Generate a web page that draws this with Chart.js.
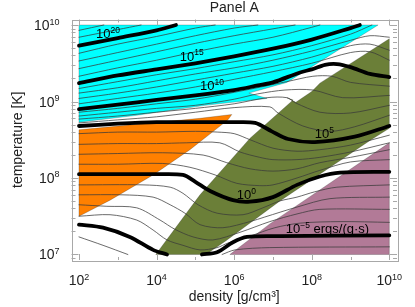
<!DOCTYPE html>
<html><head><meta charset="utf-8">
<style>html,body{margin:0;padding:0;background:#fff}canvas{display:block}</style>
<script src="https://cdn.jsdelivr.net/npm/chart.js@4"></script></head>
<body><canvas id="c" width="415" height="307"></canvas>
<script>
// All values are [log10 density, log10 temperature]
const regionCyan=[[2,10],[9.71,10],[7.36,9.25],[6.38,9.11],[6.85,9.04],[5.25,8.95],[3.49,8.82],[2,8.73]];
const regionOrange=[[2,8.63],[5.12,8.78],[5.94,8.83],[5.84,8.76],[4.86,8.37],[3.91,8.04],[2.8,7.71],[2,7.5]];
const regionGreen=[[3.98,7],[5.12,7.78],[6.41,8.52],[7.52,9.02],[7.36,9.05],[7.59,8.99],[8,9.13],[8.21,9.24],[10,9.82],[10,8.65],[9.53,8.5],[7.18,7.7],[5.79,7.18],[5.27,7]];
const regionPurple=[[10,8.46],[6.92,7.4],[5.89,7],[10,7]];

const c22=[[2,9.93],[2.64,10]];
const c21=[[2,9.84],[3,9.94],[3.6,10]];
const c20=[[2,9.73],[3,9.83],[4,9.93],[4.5,10]];
const c19=[[2,9.63],[3,9.75],[4,9.85],[5,9.96],[5.51,10]];
const c18=[[2,9.53],[3,9.64],[4,9.75],[5,9.86],[6,9.96],[6.61,10]];
const c17=[[2,9.43],[3,9.54],[4,9.65],[5,9.76],[6,9.86],[7,9.95],[7.57,10]];
const c16=[[2,9.33],[3,9.44],[4,9.54],[5,9.65],[6,9.75],[7,9.84],[8,9.97],[8.21,10]];
const c15=[[2,9.24],[3,9.34],[4,9.42],[5,9.5],[6,9.59],[7,9.69],[8,9.81],[9,9.96],[9.24,10]];
const c14=[[2,9.17],[3,9.26],[4,9.35],[5,9.43],[6,9.52],[7,9.61],[8,9.73],[9,9.88],[9.55,10]];
const c13=[[2,9.11],[3,9.18],[4,9.27],[5,9.36],[6,9.44],[7,9.54],[8,9.66],[9,9.8],[9.5,9.86],[10,9.84]];
const c12=[[2,9.04],[3,9.11],[4,9.19],[5,9.28],[6,9.37],[7,9.46],[8,9.58],[9,9.73],[9.5,9.75],[10,9.67]];
const c11=[[2,8.97],[3,9.04],[4,9.11],[5,9.19],[6,9.29],[7,9.39],[8,9.5],[9,9.64],[9.5,9.65],[10,9.54]];
const c10=[[2,8.9],[3,8.96],[4,9.02],[5,9.08],[6,9.15],[6.61,9.21],[7,9.25],[7.7,9.38],[8,9.42],[8.34,9.48],[8.65,9.49],[9,9.45],[9.5,9.36],[10,9.32]];
const c9=[[2,8.86],[3,8.91],[4,8.97],[5,9.03],[6,9.12],[7.36,9.26],[8.03,9.33],[8.52,9.33],[9,9.25],[10,9.2]];
const c8=[[2,8.81],[3,8.86],[4,8.91],[5,8.95],[6,9.03],[6.61,9.1],[7.31,9.15],[8.03,9.15],[8.8,9.05],[10,9.08]];
const c7=[[2,8.77],[3,8.81],[4,8.86],[5,8.91],[6,8.97],[6.85,9.05],[7.36,9.05],[7.59,8.98],[8.21,8.86],[9,8.85],[10,8.95]];
const c6=[[2,8.72],[3,8.76],[4,8.8],[5,8.86],[6,8.92],[6.92,8.93],[7.13,8.85],[7.77,8.68],[8.47,8.61],[9.11,8.67],[10,8.82]];
const c5=[[2,8.68],[3,8.71],[4,8.73],[5,8.73],[6,8.73],[6.54,8.72],[6.97,8.61],[7.39,8.51],[8.08,8.47],[9.11,8.54],[10,8.68]];
const c4=[[2,8.58],[3,8.6],[4,8.6],[5,8.61],[5.58,8.6],[6,8.58],[6.41,8.5],[7,8.39],[7.62,8.35],[8.21,8.37],[9,8.43],[10,8.56]];
const c3=[[2,8.44],[3,8.45],[4,8.45],[4.78,8.46],[5.63,8.46],[6.15,8.34],[6.66,8.27],[7,8.24],[7.62,8.24],[8.21,8.27],[9,8.34],[10,8.46]];
const c2=[[2,8.31],[3,8.32],[4.16,8.33],[5.2,8.3],[5.81,8.2],[6.41,8.12],[7,8.09],[7.62,8.12],[8.21,8.2],[9,8.27],[10,8.37]];
const c1=[[2,8.18],[3,8.18],[4.16,8.19],[4.86,8.14],[5.51,8.04],[6.07,7.93],[6.66,7.9],[7,7.91],[7.62,8],[8.21,8.1],[9,8.21],[10,8.24]];
const c0=[[2,8.05],[3,8.05],[4,8.05],[4.68,8.04],[5,7.95],[5.38,7.83],[5.97,7.71],[6.41,7.69],[7,7.75],[7.62,7.91],[8.21,8.02],[8.73,8.07],[10,8.08]];
const cm1=[[2,7.91],[3.65,7.91],[4.35,7.88],[4.68,7.8],[5.07,7.65],[5.56,7.54],[6.23,7.52],[6.74,7.61],[7.18,7.7],[7.62,7.75],[8.08,7.82],[8.65,7.88],[10,7.91]];
const cm2=[[2,7.78],[3.11,7.78],[3.91,7.75],[4.35,7.65],[4.73,7.54],[5.12,7.39],[5.71,7.35],[6.41,7.43],[6.79,7.49],[7.62,7.62],[8.47,7.73],[10,7.75]];
const cm3=[[2,7.65],[2.72,7.63],[3.49,7.61],[4.09,7.45],[4.47,7.33],[4.94,7.23],[5.45,7.19],[6.15,7.29],[6.92,7.43],[7.62,7.53],[8.21,7.59],[10,7.59]];
const cm4=[[2,7.5],[2.8,7.52],[3.49,7.45],[3.91,7.32],[4.27,7.19],[4.68,7.12],[5.12,7.06],[5.56,7.09],[5.84,7.15],[6.41,7.24],[7.05,7.35],[7.7,7.41],[8.73,7.43],[10,7.42]];
const cm5a=[[2,7.39],[2.62,7.35],[3.31,7.23],[3.91,7.06],[4.27,7]];
const cm5b=[[5.17,7],[5.56,7.03],[5.97,7.16],[6.33,7.23],[7.18,7.24],[10,7.25]];
const cm6a=[[2,7.23],[2.62,7.12],[3.26,7]];
const cm6b=[[5.69,7],[6.02,7.06],[6.92,7.09],[10,7.1]];

const thinContours=[c22,c21,c19,c18,c17,c16,c14,c13,c12,c11,c9,c8,c7,c6,c4,c3,c2,c1,cm1,cm2,cm3,cm4,cm6a,cm6b];
const thickContours=[c20,c15,c10,c5,c0,cm5a,cm5b];

const xMajorExp=[2,4,6,8,10];
const xMinorExp=[3,5,7,9];
const yMajorExp=[7,8,9,10];
const yMinorExp=[6,7,8,9];
const yMinorMult=[2,3,4,5,6,7,8,9];
// [base, exponent, suffix, log10 density, log10 temperature]
const contourLabels=[["10","20","",2.44,9.83],["10","15","",4.6,9.53],["10","10","",5.12,9.15],["10","5","",8.08,8.52],["10","0","",6.07,7.72],["10","\u22125"," ergs/(g\u00b7s)",7.33,7.28]];

const FONT='"Liberation Sans", Arial, sans-serif';
const toPts=c=>c.map(([x,y])=>({x:10**x,y:10**y}));
const region=(c,col)=>({data:toPts(c),showLine:false,pointRadius:0,regionColor:col,order:2});
const line=(c,w,col,o)=>({data:toPts(c),showLine:true,pointRadius:0,borderColor:col,borderWidth:w,borderCapStyle:'round',borderJoinStyle:'round',tension:0.3,order:o,fill:false});

const regionsPlugin={id:'regions',beforeDatasetsDraw(ch){
  const g=ch.ctx;
  ch.data.datasets.forEach((d,i)=>{
    if(!d.regionColor)return;
    const p=ch.getDatasetMeta(i).data;
    g.save();g.beginPath();
    p.forEach((e,k)=>k?g.lineTo(e.x,e.y):g.moveTo(e.x,e.y));
    g.closePath();g.fillStyle=d.regionColor;g.fill();
    g.strokeStyle='rgba(40,40,40,0.5)';g.lineWidth=0.5;g.stroke();g.restore();
  });
}};
function sup(g,base,exp,x,y,fs,es,rise,suffix){
  g.font=fs+'px '+FONT;g.textAlign='left';g.textBaseline='alphabetic';
  g.fillText(base,x,y);let w=g.measureText(base).width;
  g.font=es+'px '+FONT;g.fillText(exp,x+w,y-rise);w+=g.measureText(exp).width;
  if(suffix){g.font=fs+'px '+FONT;g.fillText(suffix,x+w,y);}
}
function supW(g,base,exp,fs,es){g.font=fs+'px '+FONT;const w=g.measureText(base).width;g.font=es+'px '+FONT;return w+g.measureText(exp).width;}
const framePlugin={id:'frame',afterDatasetsDraw(ch){
  const g=ch.ctx,a=ch.chartArea,X=ch.scales.x,Y=ch.scales.y;
  g.save();g.strokeStyle='#a8a8a8';g.lineWidth=1;
  const vt=(e,len)=>{const x=Math.round(X.getPixelForValue(10**e))+.5;g.beginPath();g.moveTo(x,a.top);g.lineTo(x,a.top+len);g.moveTo(x,a.bottom);g.lineTo(x,a.bottom-len);g.stroke();};
  const ht=(v,len)=>{const y=Math.round(Y.getPixelForValue(v))+.5;g.beginPath();g.moveTo(a.left,y);g.lineTo(a.left+len,y);g.moveTo(a.right,y);g.lineTo(a.right-len,y);g.stroke();};
  xMajorExp.forEach(e=>vt(e,6));xMinorExp.forEach(e=>vt(e,3));
  yMajorExp.forEach(e=>ht(10**e,7));
  yMinorExp.forEach(e=>yMinorMult.forEach(m=>{const v=m*10**e;if(v>=Y.min&&v<=Y.max)ht(v,4);}));
  g.strokeRect(Math.round(a.left)+.5,Math.round(a.top)+.5,Math.round(a.right-a.left),Math.round(a.bottom-a.top));
  g.restore();
},afterDraw(ch){
  const g=ch.ctx,X=ch.scales.x,Y=ch.scales.y;
  g.save();g.fillStyle='#222';
  xMajorExp.forEach(e=>{const w=supW(g,'10',String(e),14,9);sup(g,'10',String(e),X.getPixelForValue(10**e)-w/2,285,14,9,5.5);});
  yMajorExp.forEach(e=>{const w=supW(g,'10',String(e),14,9);sup(g,'10',String(e),59.5-w,Y.getPixelForValue(10**e)+5,14,9,5.5);});
  g.fillStyle='#000';
  contourLabels.forEach(([b,e,s,x,y])=>sup(g,b,e,X.getPixelForValue(10**x),Y.getPixelForValue(10**y),13,8.5,5.5,s));
  g.restore();
}};

const datasets=[
  region(regionCyan,'#00ffff'),region(regionOrange,'#ff8000'),region(regionGreen,'#6b7f38'),region(regionPurple,'#b27a97'),
  ...thinContours.map(c=>line(c,0.75,'#3a3a3a',1)),
  ...thickContours.map(c=>line(c,3.8,'#000',0))
];
new Chart(document.getElementById('c'),{
  type:'scatter',
  data:{datasets},
  plugins:[regionsPlugin,framePlugin],
  options:{
    responsive:false,animation:false,events:[],
    layout:{padding:{left:0,right:18,top:0,bottom:0}},
    plugins:{legend:{display:false},tooltip:{enabled:false},
      title:{display:true,text:'Panel A',fullSize:false,color:'#222',font:{family:FONT,size:14,weight:'normal'},padding:{top:0,bottom:2.7}}},
    scales:{
      x:{type:'logarithmic',min:10**1.807,max:10**10.198,grid:{display:false},border:{display:false},ticks:{display:false},
        afterFit(s){s.height=47;},
        title:{display:true,text:'density [g/cm\u00b3]',color:'#222',font:{family:FONT,size:14,weight:'normal'},padding:{top:0,bottom:1}}},
      y:{type:'logarithmic',min:10**6.928,max:10**10.072,grid:{display:false},border:{display:false},ticks:{display:false},
        afterFit(s){s.width=71.5;},
        title:{display:true,text:'temperature [K]',color:'#222',font:{family:FONT,size:14,weight:'normal'},padding:{top:10,bottom:0}}}
    }
  }
});
</script></body></html>
